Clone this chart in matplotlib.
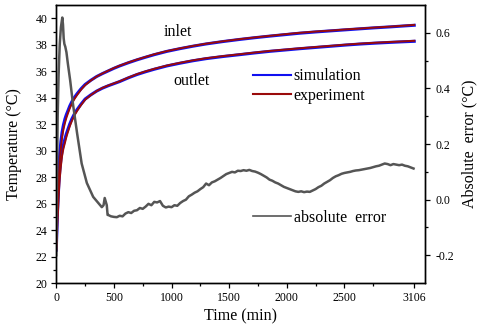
# temperature curves (inlet / outlet) with absolute error on a twin axis
import numpy as np
import matplotlib
matplotlib.use("Agg")
import matplotlib.pyplot as plt
from matplotlib.lines import Line2D

plt.rcParams['font.family'] = ['Liberation Serif', 'DejaVu Serif']

# time points for the temperature curves (min)
t_temp = [0, 3, 8, 15, 22, 30, 40, 50, 62, 75, 87, 100, 117, 135, 157,
          180, 215, 250, 300, 350, 400, 450, 500, 550, 625, 700, 775, 850, 960, 1070,
          1185, 1300, 1445, 1590, 1720, 1850, 1980, 2110, 2255, 2400,
          2515, 2630, 2765, 2900, 3000, 3106]

inlet_sim = [22.5, 24.2, 26.0, 27.5, 28.7, 29.8, 30.7, 31.4, 31.95, 32.4,
             32.72, 33.0, 33.38, 33.7, 34.02, 34.3, 34.68, 35.0, 35.32, 35.6,
             35.82, 36.02, 36.22, 36.4, 36.64, 36.86, 37.06, 37.25, 37.5, 37.7,
             37.89, 38.06, 38.24, 38.4, 38.53, 38.65, 38.76, 38.87, 38.97, 39.06,
             39.13, 39.2, 39.28, 39.35, 39.41, 39.47]
inlet_exp = [22.5, 23.6, 25.2, 26.8, 28.05, 29.2, 30.2, 31.0, 31.62, 32.1,
             32.47, 32.8, 33.21, 33.55, 33.9, 34.2, 34.61, 34.95, 35.3, 35.6,
             35.83, 36.04, 36.24, 36.42, 36.66, 36.88, 37.08, 37.28, 37.52, 37.72,
             37.91, 38.08, 38.26, 38.42, 38.55, 38.67, 38.79, 38.9, 39.0, 39.08,
             39.16, 39.22, 39.3, 39.37, 39.43, 39.5]
outlet_sim = [22.5, 23.4, 25.0, 26.2, 27.5, 28.5, 29.35, 30.0, 30.45, 30.9,
              31.27, 31.6, 32.02, 32.4, 32.78, 33.1, 33.52, 33.9, 34.22, 34.5,
              34.72, 34.9, 35.06, 35.22, 35.5, 35.75, 35.96, 36.15, 36.4, 36.6,
              36.79, 36.95, 37.11, 37.25, 37.38, 37.5, 37.6, 37.7, 37.8, 37.9,
              37.98, 38.05, 38.12, 38.18, 38.22, 38.26]
outlet_exp = [22.5, 22.8, 24.2, 25.5, 26.85, 27.9, 28.85, 29.6, 30.17, 30.6,
              31.02, 31.4, 31.85, 32.25, 32.66, 33.0, 33.45, 33.85, 34.2, 34.5,
              34.74, 34.92, 35.08, 35.24, 35.52, 35.78, 35.99, 36.18, 36.43, 36.63,
              36.82, 36.98, 37.14, 37.28, 37.41, 37.53, 37.63, 37.73, 37.83, 37.93,
              38.01, 38.08, 38.15, 38.21, 38.25, 38.3]

# absolute error, early part
t_err_early = [0, 5, 12, 20, 30, 40, 52, 58, 64, 70, 78, 88, 100, 120, 146, 180, 220,
               265, 320, 360, 395, 410, 420, 428, 438, 445]
err_early = [-0.20, 0.05, 0.30, 0.45, 0.56, 0.62, 0.655, 0.63, 0.58, 0.56, 0.55, 0.53,
             0.49, 0.43, 0.34, 0.24, 0.13, 0.06, 0.01, -0.010, -0.027, -0.020, 0.006,
             -0.005, -0.020, -0.055]
# absolute error, every 25 min from 450 to 3100
t_err_late = np.arange(450, 3101, 25)
err_late = [
    -0.055, -0.060, -0.062, -0.063, -0.058, -0.060, -0.050, -0.045, -0.048, -0.040,
    -0.038, -0.030, -0.033, -0.025, -0.015, -0.020, -0.008, -0.010, -0.005, -0.022,
    -0.028, -0.025, -0.027, -0.020, -0.022, -0.012, -0.005, 0.000, 0.012, 0.018,
    0.025, 0.030, 0.038, 0.045, 0.058, 0.052, 0.062, 0.066, 0.072, 0.078,
    0.085, 0.092, 0.096, 0.100, 0.098, 0.104, 0.103, 0.106, 0.104, 0.107,
    0.103, 0.101, 0.097, 0.092, 0.086, 0.080, 0.072, 0.068, 0.062, 0.058,
    0.052, 0.046, 0.042, 0.038, 0.034, 0.030, 0.028, 0.030, 0.027, 0.029,
    0.028, 0.033, 0.038, 0.045, 0.050, 0.058, 0.064, 0.070, 0.078, 0.084,
    0.088, 0.093, 0.096, 0.098, 0.100, 0.103, 0.105, 0.106, 0.108, 0.110,
    0.112, 0.114, 0.117, 0.120, 0.122, 0.126, 0.130, 0.128, 0.124, 0.128,
    0.126, 0.124, 0.126, 0.122, 0.120, 0.116, 0.112]

t_err = list(t_err_early) + list(t_err_late)
err = err_early + err_late

x_ticks = [0, 500, 1000, 1500, 2000, 2500, 3106]

blue = '#1010f0'
red = '#9a0a0a'
gray = '#555555'

fig = plt.figure(figsize=(4.8, 3.35), dpi=100)
ax = fig.add_axes([0.1173, 0.155, 0.768, 0.830])

ax.plot(t_temp, inlet_sim, color=blue, lw=2.2, zorder=2)
ax.plot(t_temp, outlet_sim, color=blue, lw=2.2, zorder=2)
ax.plot(t_temp, inlet_exp, color=red, lw=1.4, zorder=3)
ax.plot(t_temp, outlet_exp, color=red, lw=1.4, zorder=3)

ax.set_xlim(0, 3199)
ax.set_ylim(20, 41)
ax.set_xticks(x_ticks)
ax.set_xticks([250, 750, 1250, 1750, 2250, 2750], minor=True)
ax.set_yticks(range(20, 41, 2))
ax.set_yticks(range(21, 41, 2), minor=True)
ax.tick_params(which='both', direction='out', top=False, right=False, labelsize=8.5, width=0.9)
ax.tick_params(which='major', length=3.5, pad=3)
ax.tick_params(which='minor', length=2)
ax.set_xlabel('Time (min)', fontsize=11.5, labelpad=3)
ax.set_ylabel('Temperature (°C)', fontsize=11.5, labelpad=10)

ax.text(1056, 38.94, 'inlet', fontsize=11.5, ha='center', va='center')
ax.text(1177, 35.25, 'outlet', fontsize=11.5, ha='center', va='center')

ax2 = ax.twinx()
ax2.plot(t_err, err, color=gray, lw=1.8)
ax2.set_ylim(-0.3, 0.7)
ax2.set_yticks([-0.2, 0.0, 0.2, 0.4, 0.6])
ax2.set_yticklabels(['-0.2', '0.0', '0.2', '0.4', '0.6'])
ax2.set_yticks([-0.1, 0.1, 0.3, 0.5], minor=True)
ax2.tick_params(which='both', direction='out', labelsize=8.5, width=0.9)
ax2.tick_params(which='major', length=3.5, pad=4)
ax2.tick_params(which='minor', length=2)
ax2.set_ylabel('Absolute  error (°C)', fontsize=11.5, labelpad=5)

for s in list(ax.spines.values()) + list(ax2.spines.values()):
    s.set_linewidth(1.0)

h1 = [Line2D([], [], color=blue, lw=1.5), Line2D([], [], color=red, lw=1.5)]
fig.legend(h1, ['simulation', 'experiment'], loc='upper left',
           bbox_to_anchor=(0.527, 0.796), frameon=False, fontsize=11.5,
           handlelength=2.4, handletextpad=0.15, labelspacing=0.2,
           borderpad=0, borderaxespad=0)
h2 = [Line2D([], [], color=gray, lw=1.2)]
fig.legend(h2, ['absolute  error'], loc='upper left',
           bbox_to_anchor=(0.527, 0.374), frameon=False, fontsize=11.5,
           handlelength=2.4, handletextpad=0.15, borderpad=0, borderaxespad=0)

fig.savefig('out.png', dpi=100)
